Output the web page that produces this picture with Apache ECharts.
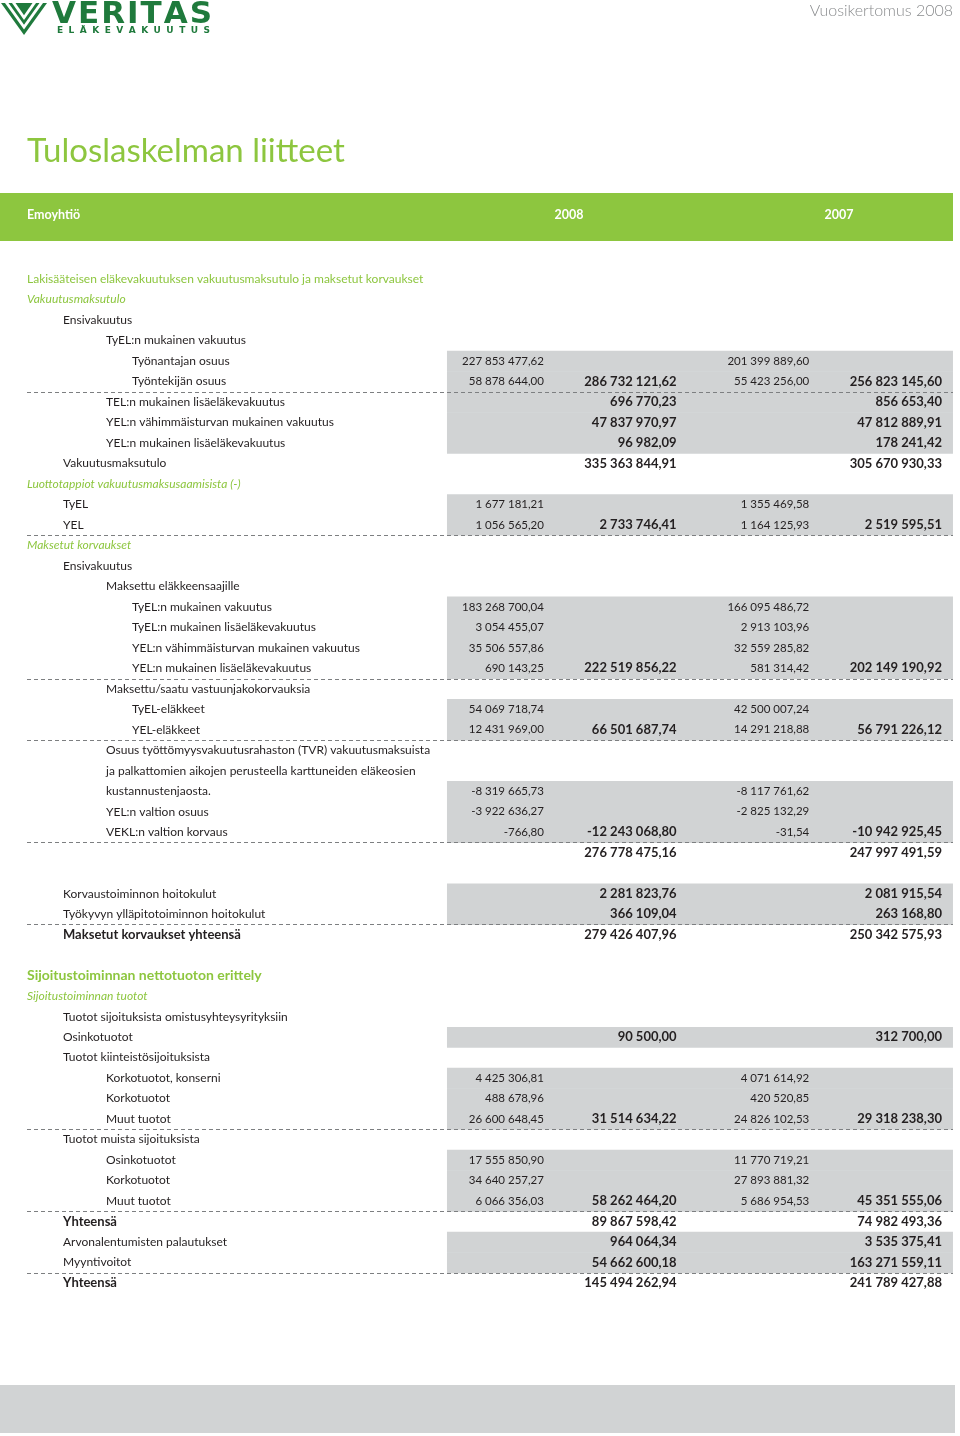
<!DOCTYPE html>
<html>
<head>
<meta charset="utf-8">
<script src="https://cdn.jsdelivr.net/npm/echarts@6/dist/echarts.min.js"></script>
<style>
html,body{margin:0;padding:0;background:#fff;}
#chart{width:960px;height:1436px;}
</style>
</head>
<body>
<div id="chart"></div>
<script>
// ---------- DATA ----------
const rowLabels = [
  "Lakisääteisen eläkevakuutuksen vakuutusmaksutulo ja maksetut korvaukset",
  "Vakuutusmaksutulo",
  "Ensivakuutus",
  "TyEL:n mukainen vakuutus",
  "Työnantajan osuus",
  "Työntekijän osuus",
  "TEL:n mukainen lisäeläkevakuutus",
  "YEL:n vähimmäisturvan mukainen vakuutus",
  "YEL:n mukainen lisäeläkevakuutus",
  "Vakuutusmaksutulo",
  "Luottotappiot vakuutusmaksusaamisista (-)",
  "TyEL",
  "YEL",
  "Maksetut korvaukset",
  "Ensivakuutus",
  "Maksettu eläkkeensaajille",
  "TyEL:n mukainen vakuutus",
  "TyEL:n mukainen lisäeläkevakuutus",
  "YEL:n vähimmäisturvan mukainen vakuutus",
  "YEL:n mukainen lisäeläkevakuutus",
  "Maksettu/saatu vastuunjakokorvauksia",
  "TyEL-eläkkeet",
  "YEL-eläkkeet",
  "Osuus työttömyysvakuutusrahaston (TVR) vakuutusmaksuista",
  "ja palkattomien aikojen perusteella karttuneiden eläkeosien",
  "kustannustenjaosta.",
  "YEL:n valtion osuus",
  "VEKL:n valtion korvaus",
  "",
  "",
  "Korvaustoiminnon hoitokulut",
  "Työkyvyn ylläpitotoiminnon hoitokulut",
  "Maksetut korvaukset yhteensä",
  "",
  "Sijoitustoiminnan nettotuoton erittely",
  "Sijoitustoiminnan tuotot",
  "Tuotot sijoituksista omistusyhteysyrityksiin",
  "Osinkotuotot",
  "Tuotot kiinteistösijoituksista",
  "Korkotuotot, konserni",
  "Korkotuotot",
  "Muut tuotot",
  "Tuotot muista sijoituksista",
  "Osinkotuotot",
  "Korkotuotot",
  "Muut tuotot",
  "Yhteensä",
  "Arvonalentumisten palautukset",
  "Myyntivoitot",
  "Yhteensä"
];
const rowLevels = [0,0,1,2,3,3,2,2,2,1,0,1,1,0,1,2,3,3,3,3,2,3,3,2,2,2,2,2,1,1,1,1,1,1,0,0,1,1,1,2,2,2,1,2,2,2,1,1,1,1];
// kinds: n normal, g green, i green italic, h green bold heading, b bold
const rowKinds = ["g","i","n","n","n","n","n","n","n","n","i","n","n","i","n","n","n","n","n","n","n","n","n","n","n","n","n","n","n","n","n","n","b","n","h","i","n","n","n","n","n","n","n","n","n","n","b","n","n","b"];

const columnNames = ["2008 erittely","2008 yhteensä","2007 erittely","2007 yhteensä"];
const headerYears = ["2008","2007"];

const valueRows   = [4,5,6,7,8,9,11,12,16,17,18,19,21,22,25,26,27,28,30,31,32,37,39,40,41,43,44,45,46,47,48,49];
const v2008detail = [227853477.62,58878644.00,null,null,null,null,1677181.21,1056565.20,183268700.04,3054455.07,35506557.86,690143.25,54069718.74,12431969.00,-8319665.73,-3922636.27,-766.80,null,null,null,null,null,4425306.81,488678.96,26600648.45,17555850.90,34640257.27,6066356.03,null,null,null,null];
const v2008total  = [null,286732121.62,696770.23,47837970.97,96982.09,335363844.91,null,2733746.41,null,null,null,222519856.22,null,66501687.74,null,null,-12243068.80,276778475.16,2281823.76,366109.04,279426407.96,90500.00,null,null,31514634.22,null,null,58262464.20,89867598.42,964064.34,54662600.18,145494262.94];
const v2007detail = [201399889.60,55423256.00,null,null,null,null,1355469.58,1164125.93,166095486.72,2913103.96,32559285.82,581314.42,42500007.24,14291218.88,-8117761.62,-2825132.29,-31.54,null,null,null,null,null,4071614.92,420520.85,24826102.53,11770719.21,27893881.32,5686954.53,null,null,null,null];
const v2007total  = [null,256823145.60,856653.40,47812889.91,178241.42,305670930.33,null,2519595.51,null,null,null,202149190.92,null,56791226.12,null,null,-10942925.45,247997491.59,2081915.54,263168.80,250342575.93,312700.00,null,null,29318238.30,null,null,45351555.06,74982493.36,3535375.41,163271559.11,241789427.88];

const shadedRows = [4,5,6,7,8,11,12,16,17,18,19,21,22,25,26,27,30,31,37,39,40,41,43,44,45,47,48];
const dashedRows = [5,12,19,22,27,31,41,45,48];

// ---------- STYLE ----------
const GREEN = "#8dc63f";
const DARK = "#231f20";
const GREY_BAND = "#d1d3d4";
const FONT = "Lato, 'Open Sans', sans-serif";
const indentPx = [27, 63, 106, 132];

function fmt(v){
  const neg = v < 0;
  const s = Math.abs(v).toFixed(2);
  let [i, d] = s.split(".");
  i = i.replace(/\B(?=(\d{3})+(?!\d))/g, " ");
  return (neg ? "-" : "") + i + "," + d;
}

const valueColumns = [v2008detail, v2008total, v2007detail, v2007total];
const numberData = [];
valueColumns.forEach((col, k) => {
  col.forEach((v, i) => {
    if (v !== null) numberData.push([k + 1, valueRows[i], v]);
  });
});
const labelData = rowLabels.map((t, i) => [0, i, rowLevels[i]]);
const shadeData = shadedRows.map(r => [1, r]);
const dashData = dashedRows.map(r => [1, r]);

const chart = echarts.init(document.getElementById("chart"), null, {renderer: "canvas"});

// measure helper for spaced logo lettering
const mctx = document.createElement("canvas").getContext("2d");
function spacedLetters(text, font, x0, x1, y, fill){
  mctx.font = font;
  const widths = text.split("").map(c => mctx.measureText(c).width);
  const total = widths.reduce((a,b)=>a+b,0);
  const gap = (x1 - x0 - total) / (text.length - 1);
  let x = x0;
  return text.split("").map((c, i) => {
    const el = {type:"text", x: x, y: y, style:{text:c, font:font, fill:fill, textVerticalAlign:"middle"}, silent:true};
    x += widths[i] + gap;
    return el;
  });
}
const LOGO = "#1f7a3c";
const veritasFont = "bold 31px 'DejaVu Sans'";
const subFont = "bold 9px 'DejaVu Sans'";

const logoV = [];
const vCols = [LOGO, "#fff", LOGO, "#fff", LOGO];
[0, 4, 7.5, 11, 14.5].forEach((d, i) => {
  const apexY = 35 - d * 32 / 23.5;
  logoV.push({type:"polygon", silent:true, shape:{points:[[1 + d, 3],[47 - d, 3],[24, apexY]]}, style:{fill: vCols[i]}});
});

const option = {
  animation: false,
  backgroundColor: "#ffffff",
  grid: {left: 0, right: 0, top: 268.75, height: 1024.5, containLabel: false},
  xAxis: {type: "value", min: -3.1, max: 4.136, show: false},
  yAxis: {type: "value", min: -0.5, max: 49.5, inverse: true, show: false},
  graphic: [
    ...logoV,
    ...spacedLetters("VERITAS", veritasFont, 52, 212, 15, LOGO),
    ...spacedLetters("ELÄKEVAKUUTUS", subFont, 57, 210, 31, LOGO),
    {type:"text", silent:true, x: 953, y: 11, style:{text:"Vuosikertomus 2008", font:"300 16px " + FONT, fill:"#8a8c8e", textAlign:"right", textVerticalAlign:"middle"}},
    {type:"text", silent:true, x: 27, y: 151, style:{text:"Tuloslaskelman liitteet", font:"normal 33px " + FONT, fill:GREEN, textVerticalAlign:"middle"}},
    {type:"rect", silent:true, shape:{x:0, y:193, width:953, height:48}, style:{fill:GREEN}},
    {type:"text", silent:true, x: 27, y: 215, style:{text:"Emoyhtiö", font:"bold 12.5px " + FONT, fill:"#fff", textVerticalAlign:"middle"}},
    {type:"text", silent:true, x: 569, y: 215, style:{text:headerYears[0], font:"bold 12.5px " + FONT, fill:"#fff", textAlign:"center", textVerticalAlign:"middle"}},
    {type:"text", silent:true, x: 839, y: 215, style:{text:headerYears[1], font:"bold 12.5px " + FONT, fill:"#fff", textAlign:"center", textVerticalAlign:"middle"}},
    {type:"rect", silent:true, shape:{x:0, y:1385, width:955, height:48}, style:{fill:GREY_BAND}}
  ],
  series: [
    {
      type: "custom", name: "shade", data: shadeData, encode: {x: 0, y: 1}, z: 1,
      renderItem(params, api){
        const row = api.value(1);
        const p0 = api.coord([0.269, row - 0.5]);
        const p1 = api.coord([4.083, row + 0.5]);
        return {type:"rect", shape:{x:p0[0], y:p0[1], width:p1[0]-p0[0], height:p1[1]-p0[1] + 0.5}, style:{fill:GREY_BAND}};
      }
    },
    {
      type: "custom", name: "dash", data: dashData, encode: {x: 0, y: 1}, z: 2,
      renderItem(params, api){
        const row = api.value(1);
        const p = api.coord([0, row + 0.5]);
        const y = Math.round(p[1]) + 0.5;
        return {type:"line", shape:{x1:27, y1:y, x2:953, y2:y}, style:{stroke:"#7d7f81", lineWidth:1, lineDash:[4,3]}};
      }
    },
    {
      type: "custom", name: "labels", data: labelData, encode: {x: 0, y: 1}, z: 3,
      renderItem(params, api){
        const row = api.value(1);
        const level = api.value(2);
        const p = api.coord([-3.1, row]);
        const kind = rowKinds[row];
        let fill = DARK, weight = "normal", style = "normal", size = 12;
        if (kind === "g") fill = GREEN;
        if (kind === "i") { fill = GREEN; style = "italic"; }
        if (kind === "h") { fill = GREEN; weight = "bold"; size = 14; }
        if (kind === "b") { weight = "bold"; size = 13; }
        return {type:"text", style:{text: rowLabels[row], x: p[0] + indentPx[level], y: p[1],
          font: style + " " + weight + " " + size + "px " + FONT, fill: fill, textVerticalAlign:"middle"}};
      }
    },
    {
      type: "custom", name: "values", data: numberData, encode: {x: 0, y: 1}, z: 3,
      renderItem(params, api){
        const col = api.value(0);
        const row = api.value(1);
        const p = api.coord([col, row]);
        const bold = (col === 2 || col === 4);
        return {type:"text", style:{text: fmt(api.value(2)), x: p[0], y: p[1],
          font: (bold ? "bold 13px " : "normal 11.5px ") + FONT, fill: DARK, textAlign:"right", textVerticalAlign:"middle"}};
      }
    }
  ]
};
chart.setOption(option);
</script>
</body>
</html>
